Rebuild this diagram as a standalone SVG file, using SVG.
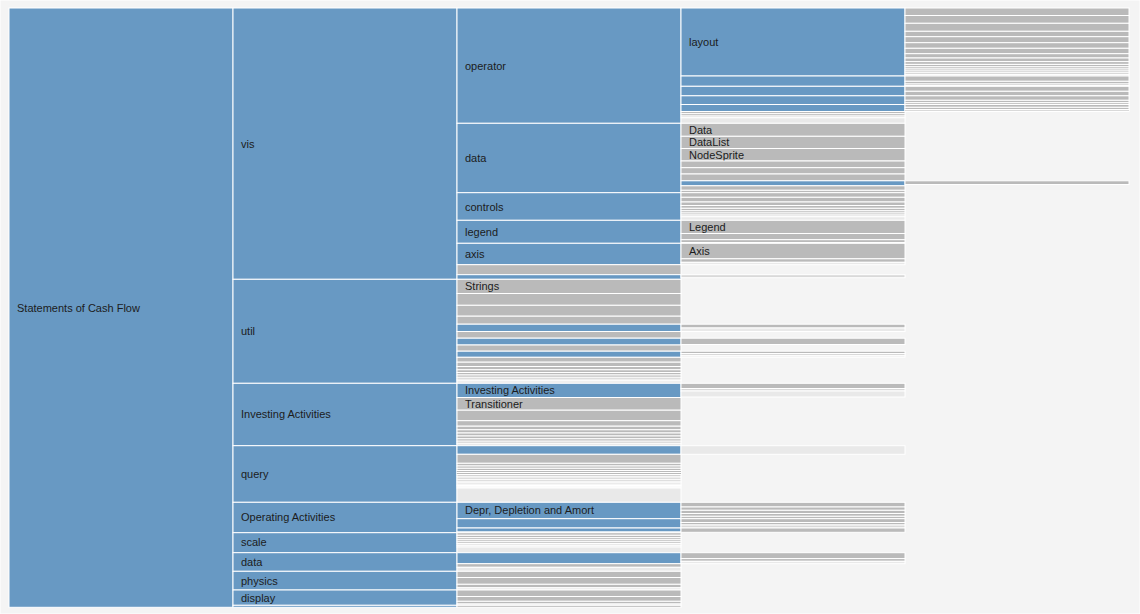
<svg xmlns="http://www.w3.org/2000/svg" width="1140" height="614" viewBox="0 0 1140 614">
<style>
rect{stroke:#fff;stroke-width:1}
.b{fill:#6899c3}
.g{fill:#bababa}
.l{fill:#d9d9d9}
.e{fill:#e9e9e9}
text{font-family:"Liberation Sans",Arial,sans-serif;font-size:11px;fill:#1c1c1c}
</style>
<rect x="0" y="0" width="1140" height="614" fill="#f4f4f4" stroke="none"/>

<!-- column 0 -->
<g id="node-statements">
<rect class="b" x="9" y="8" width="224" height="599.3"/>
<text x="17" y="312">Statements of Cash Flow</text>
</g>

<!-- column 1 -->
<g id="col1" transform="translate(233,0)">
<g id="node-vis"><rect class="b" x="0" y="8" width="224" height="271.3"/><text x="8" y="148">vis</text></g>
<g id="node-util"><rect class="b" x="0" y="279.3" width="224" height="104"/><text x="8" y="335">util</text></g>
<g id="node-investing"><rect class="b" x="0" y="383.3" width="224" height="62.4"/><text x="8" y="418">Investing Activities</text></g>
<g id="node-query"><rect class="b" x="0" y="445.7" width="224" height="56.6"/><text x="8" y="478">query</text></g>
<g id="node-operating"><rect class="b" x="0" y="502.3" width="224" height="30.4"/><text x="8" y="521">Operating Activities</text></g>
<g id="node-scale"><rect class="b" x="0" y="532.7" width="224" height="20"/><text x="8" y="546">scale</text></g>
<g id="node-data1"><rect class="b" x="0" y="552.7" width="224" height="18.6"/><text x="8" y="566">data</text></g>
<g id="node-physics"><rect class="b" x="0" y="571.3" width="224" height="18.7"/><text x="8" y="585">physics</text></g>
<g id="node-display"><rect class="b" x="0" y="590" width="224" height="15.3"/><text x="8" y="602">display</text></g>
<rect class="b" x="0" y="605.3" width="224" height="2"/>
</g>

<!-- column 2 -->
<g id="col2" transform="translate(457,0)">
<g id="node-operator"><rect class="b" x="0" y="8" width="224" height="115.3"/><text x="8" y="70">operator</text></g>
<g id="node-data2"><rect class="b" x="0" y="123.3" width="224" height="69.4"/><text x="8" y="162">data</text></g>
<g id="node-controls"><rect class="b" x="0" y="192.7" width="224" height="27.6"/><text x="8" y="211">controls</text></g>
<g id="node-legend"><rect class="b" x="0" y="220.3" width="224" height="23"/><text x="8" y="236">legend</text></g>
<g id="node-axis"><rect class="b" x="0" y="243.3" width="224" height="21.4"/><text x="8" y="258">axis</text></g>
<g id="vis-rest">
<rect class="g" x="0" y="264.7" width="224" height="10"/>
<rect class="b" x="0" y="274.7" width="224" height="4.6"/>
</g>
<g id="node-strings"><rect class="g" x="0" y="279.3" width="224" height="14.2"/><text x="8" y="290">Strings</text></g>
<g id="util-rest">
<rect class="g" x="0" y="293.5" width="224" height="11.8"/>
<rect class="g" x="0" y="305.3" width="224" height="10.9"/>
<rect class="g" x="0" y="316.2" width="224" height="8"/>
<rect class="b" x="0" y="324.2" width="224" height="7.3"/>
<rect class="g" x="0" y="331.5" width="224" height="6.7"/>
<rect class="b" x="0" y="338.2" width="224" height="6.8"/>
<rect class="g" x="0" y="345" width="224" height="6.2"/>
<rect class="b" x="0" y="351.2" width="224" height="6.1"/>
<rect class="g" x="0" y="357.3" width="224" height="4.9"/>
<rect class="g" x="0" y="362.2" width="224" height="4.3"/>
<rect class="g" x="0" y="366.5" width="224" height="3.3"/>
<rect class="g" x="0" y="369.8" width="224" height="2.7"/>
<rect class="g" x="0" y="372.5" width="224" height="2.5"/>
<rect class="g" x="0" y="375" width="224" height="2.3"/>
<rect class="g" x="0" y="377.3" width="224" height="1.9"/>
<rect class="g" x="0" y="379.2" width="224" height="1.6"/>
<rect class="e" x="0" y="380.8" width="224" height="2.5"/>
</g>
<g id="node-investing2"><rect class="b" x="0" y="383.3" width="224" height="14.2"/><text x="8" y="394">Investing Activities</text></g>
<g id="node-transitioner"><rect class="g" x="0" y="397.5" width="224" height="12.7"/><text x="8" y="408">Transitioner</text></g>
<g id="investing-rest">
<rect class="g" x="0" y="410.2" width="224" height="10.5"/>
<rect class="g" x="0" y="420.7" width="224" height="5.5"/>
<rect class="g" x="0" y="426.2" width="224" height="3.6"/>
<rect class="g" x="0" y="429.8" width="224" height="3.2"/>
<rect class="g" x="0" y="433" width="224" height="3"/>
<rect class="g" x="0" y="436" width="224" height="2.8"/>
<rect class="g" x="0" y="438.8" width="224" height="2.4"/>
<rect class="g" x="0" y="441.2" width="224" height="2"/>
<rect class="e" x="0" y="443.2" width="224" height="2.5"/>
</g>
<g id="query-rest">
<rect class="b" x="0" y="445.7" width="224" height="8.6"/>
<rect class="g" x="0" y="454.3" width="224" height="9"/>
<rect class="g" x="0" y="463.3" width="224" height="2.7"/>
<rect class="g" x="0" y="466" width="224" height="2.3"/>
<rect class="g" x="0" y="468.3" width="224" height="2.2"/>
<rect class="g" x="0" y="470.5" width="224" height="2"/>
<rect class="g" x="0" y="472.5" width="224" height="2"/>
<rect class="g" x="0" y="474.5" width="224" height="1.8"/>
<rect class="g" x="0" y="476.3" width="224" height="1.7"/>
<rect class="g" x="0" y="478" width="224" height="1.7"/>
<rect class="g" x="0" y="479.7" width="224" height="1.6"/>
<rect class="g" x="0" y="481.3" width="224" height="1.5"/>
<rect class="g" x="0" y="482.8" width="224" height="1.4"/>
<rect class="l" x="0" y="484.2" width="224" height="1.3"/>
<rect class="l" x="0" y="485.5" width="224" height="1.3"/>
<rect class="l" x="0" y="486.8" width="224" height="1.2"/>
<rect class="e" x="0" y="488" width="224" height="14.3"/>
</g>
<g id="node-depr"><rect class="b" x="0" y="502.3" width="224" height="16.4"/><text x="8" y="514">Depr, Depletion and Amort</text></g>
<g id="operating-rest">
<rect class="b" x="0" y="518.7" width="224" height="9.3"/>
<rect class="b" x="0" y="528" width="224" height="4"/>
<rect class="l" x="0" y="532" width="224" height="0.7"/>
</g>
<g id="scale-rest">
<rect class="g" x="0" y="532.7" width="224" height="2.6"/>
<rect class="g" x="0" y="535.3" width="224" height="2.4"/>
<rect class="g" x="0" y="537.7" width="224" height="2.1"/>
<rect class="g" x="0" y="539.8" width="224" height="2"/>
<rect class="g" x="0" y="541.8" width="224" height="1.8"/>
<rect class="l" x="0" y="543.6" width="224" height="1.7"/>
<rect class="l" x="0" y="545.3" width="224" height="1.7"/>
<rect class="e" x="0" y="547" width="224" height="5.7"/>
</g>
<g id="data1-rest">
<rect class="b" x="0" y="552.7" width="224" height="11"/>
<rect class="g" x="0" y="563.7" width="224" height="3.6"/>
<rect class="e" x="0" y="567.3" width="224" height="4"/>
</g>
<g id="physics-rest">
<rect class="g" x="0" y="571.3" width="224" height="6.2"/>
<rect class="g" x="0" y="577.5" width="224" height="6.8"/>
<rect class="g" x="0" y="584.3" width="224" height="3.5"/>
<rect class="e" x="0" y="587.8" width="224" height="2.2"/>
</g>
<g id="display-rest">
<rect class="g" x="0" y="590" width="224" height="6.5"/>
<rect class="g" x="0" y="596.5" width="224" height="4.8"/>
<rect class="g" x="0" y="601.3" width="224" height="2.7"/>
<rect class="l" x="0" y="604" width="224" height="1.3"/>
<rect class="g" x="0" y="605.3" width="224" height="2"/>
</g>
</g>

<!-- column 3 -->
<g id="col3" transform="translate(681,0)">
<g id="node-layout"><rect class="b" x="0" y="8" width="224" height="68"/><text x="8" y="46">layout</text></g>
<g id="operator-rest">
<rect class="b" x="0" y="76" width="224" height="10.3"/>
<rect class="b" x="0" y="86.3" width="224" height="9.5"/>
<rect class="b" x="0" y="95.8" width="224" height="8.7"/>
<rect class="b" x="0" y="104.5" width="224" height="7"/>
<rect class="g" x="0" y="111.5" width="224" height="2.2"/>
<rect class="g" x="0" y="113.7" width="224" height="2.3"/>
<rect class="l" x="0" y="116" width="224" height="1.8"/>
<rect class="e" x="0" y="117.8" width="224" height="5.5"/>
</g>
<g id="node-Data"><rect class="g" x="0" y="123.3" width="224" height="13"/><text x="8" y="134">Data</text></g>
<g id="node-DataList"><rect class="g" x="0" y="136.3" width="224" height="12.2"/><text x="8" y="146">DataList</text></g>
<g id="node-NodeSprite"><rect class="g" x="0" y="148.5" width="224" height="12.5"/><text x="8" y="159">NodeSprite</text></g>
<g id="data2-rest">
<rect class="g" x="0" y="161" width="224" height="6.7"/>
<rect class="g" x="0" y="167.7" width="224" height="6.3"/>
<rect class="g" x="0" y="174" width="224" height="6.8"/>
<rect class="b" x="0" y="180.8" width="224" height="5"/>
<rect class="g" x="0" y="185.8" width="224" height="4.5"/>
<rect class="g" x="0" y="190.3" width="224" height="2.4"/>
</g>
<g id="controls-rest">
<rect class="g" x="0" y="192.7" width="224" height="4.6"/>
<rect class="g" x="0" y="197.3" width="224" height="4.7"/>
<rect class="g" x="0" y="202" width="224" height="3.5"/>
<rect class="g" x="0" y="205.5" width="224" height="2.8"/>
<rect class="g" x="0" y="208.3" width="224" height="2.5"/>
<rect class="g" x="0" y="210.8" width="224" height="2.2"/>
<rect class="g" x="0" y="213" width="224" height="2"/>
<rect class="l" x="0" y="215" width="224" height="1.8"/>
<rect class="e" x="0" y="216.8" width="224" height="3.5"/>
</g>
<g id="node-Legend"><rect class="g" x="0" y="220.3" width="224" height="13.2"/><text x="8" y="231">Legend</text></g>
<g id="legend-rest">
<rect class="g" x="0" y="233.5" width="224" height="6.2"/>
<rect class="g" x="0" y="239.7" width="224" height="2.8"/>
</g>
<g id="node-Axis"><rect class="g" x="0" y="243.3" width="224" height="15.5"/><text x="8" y="255">Axis</text></g>
<g id="axis-rest">
<rect class="g" x="0" y="258.8" width="224" height="3.5"/>
<rect class="e" x="0" y="262.3" width="224" height="2.4"/>
</g>
<g id="util-deep">
<rect class="l" x="0" y="274.7" width="224" height="3"/>
<rect class="g" x="0" y="324.2" width="224" height="3.8"/>
<rect class="e" x="0" y="328" width="224" height="3.5"/>
<rect class="g" x="0" y="338.2" width="224" height="6.3"/>
<rect class="g" x="0" y="351.2" width="224" height="2.3"/>
<rect class="l" x="0" y="353.5" width="224" height="2.3"/>
<rect class="e" x="0" y="355.8" width="224" height="1.5"/>
</g>
<g id="investing-deep">
<rect class="g" x="0" y="383.3" width="224" height="5.2"/>
<rect class="l" x="0" y="388.5" width="224" height="2.5"/>
<rect class="e" x="0" y="391" width="224" height="6"/>
</g>
<g id="query-deep">
<rect class="e" x="0" y="445.7" width="224" height="8.6"/>
</g>
<g id="operating-deep">
<rect class="g" x="0" y="502.3" width="224" height="4.7"/>
<rect class="g" x="0" y="507" width="224" height="3.3"/>
<rect class="g" x="0" y="510.3" width="224" height="3.2"/>
<rect class="g" x="0" y="513.5" width="224" height="2.8"/>
<rect class="g" x="0" y="516.3" width="224" height="2.4"/>
<rect class="g" x="0" y="518.7" width="224" height="3.8"/>
<rect class="g" x="0" y="522.5" width="224" height="2.5"/>
<rect class="l" x="0" y="525" width="224" height="3"/>
<rect class="g" x="0" y="528" width="224" height="4.3"/>
</g>
<g id="data1-deep">
<rect class="g" x="0" y="552.7" width="224" height="5.9"/>
<rect class="g" x="0" y="558.6" width="224" height="2.7"/>
<rect class="e" x="0" y="561.3" width="224" height="2.4"/>
</g>
</g>

<!-- column 4 -->
<g id="col4" transform="translate(905,0)">
<g id="layout-deep">
<rect class="g" x="0" y="8" width="224" height="7.5"/>
<rect class="g" x="0" y="15.5" width="224" height="7.8"/>
<rect class="g" x="0" y="23.3" width="224" height="8"/>
<rect class="g" x="0" y="31.3" width="224" height="5.4"/>
<rect class="g" x="0" y="36.7" width="224" height="6"/>
<rect class="g" x="0" y="42.7" width="224" height="5.6"/>
<rect class="g" x="0" y="48.3" width="224" height="5.4"/>
<rect class="g" x="0" y="53.7" width="224" height="4.3"/>
<rect class="g" x="0" y="58" width="224" height="3.6"/>
<rect class="g" x="0" y="61.6" width="224" height="2.8"/>
<rect class="g" x="0" y="64.4" width="224" height="2.4"/>
<rect class="g" x="0" y="66.8" width="224" height="2.2"/>
<rect class="g" x="0" y="69" width="224" height="2"/>
<rect class="g" x="0" y="71" width="224" height="1.8"/>
<rect class="g" x="0" y="72.8" width="224" height="1.6"/>
<rect class="l" x="0" y="74.4" width="224" height="1.6"/>
</g>
<g id="operator-deep">
<rect class="g" x="0" y="76" width="224" height="5.3"/>
<rect class="g" x="0" y="81.3" width="224" height="2.7"/>
<rect class="g" x="0" y="84" width="224" height="1.5"/>
<rect class="l" x="0" y="85.5" width="224" height="0.8"/>
<rect class="g" x="0" y="86.3" width="224" height="5"/>
<rect class="g" x="0" y="91.3" width="224" height="4.5"/>
<rect class="g" x="0" y="95.8" width="224" height="4.5"/>
<rect class="g" x="0" y="100.3" width="224" height="2.4"/>
<rect class="g" x="0" y="102.7" width="224" height="1.8"/>
<rect class="g" x="0" y="104.5" width="224" height="2.8"/>
<rect class="g" x="0" y="107.3" width="224" height="2.2"/>
<rect class="l" x="0" y="109.5" width="224" height="2"/>
</g>
<g id="data2-deep">
<rect class="g" x="0" y="180.8" width="224" height="3.7"/>
</g>
</g>
</svg>
